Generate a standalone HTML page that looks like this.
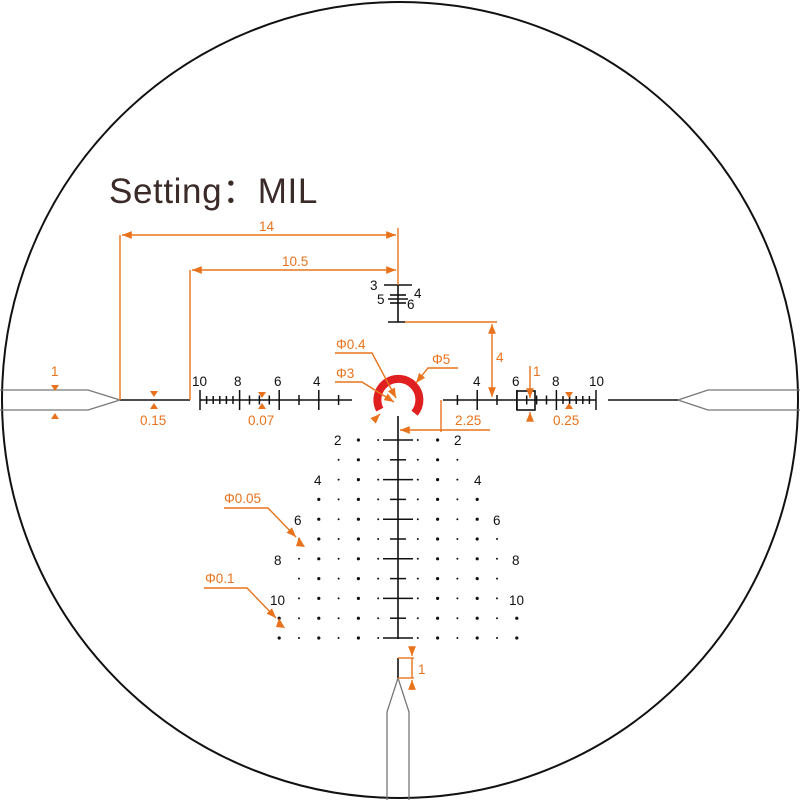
<!DOCTYPE html>
<html><head><meta charset="utf-8"><style>
html,body{margin:0;padding:0;background:#fff;}
svg{display:block;}
text{font-family:"Liberation Sans","DejaVu Sans",sans-serif;}
.o{fill:#E8731C;font-size:13.5px;}
.k{fill:#111;font-size:13.5px;}
</style></head><body>
<svg id="s" width="800" height="800" viewBox="0 0 800 800" xmlns="http://www.w3.org/2000/svg">
<defs>
<marker id="a" viewBox="0 0 10 10" refX="10" refY="5" markerWidth="7" markerHeight="7" orient="auto-start-reverse"><path d="M0,1 L10,5 L0,9 z" fill="#E8731C"/></marker>
</defs>
<circle cx="400" cy="400" r="398" fill="none" stroke="#111" stroke-width="2"/>
<text x="109" y="203" font-size="35" fill="#3a2a28" style="font-family:'Liberation Sans','Noto Sans CJK SC',sans-serif;letter-spacing:0.6px">Setting：MIL</text>

<!-- posts -->
<g fill="none" stroke="#777" stroke-width="1.3">
<path d="M0,390 H88 L120,400 L88,410 H0"/>
<path d="M800,390 H708 L678,400 L708,410 H800"/>
<path d="M387,800 V712 L398,678 L409,712 V800"/>
</g>
<g stroke="#111" stroke-width="1.6" fill="none">
<line x1="120" y1="400" x2="190" y2="400"/>
<line x1="200" y1="400" x2="352" y2="400"/>
<line x1="443" y1="400" x2="596" y2="400"/>
<line x1="608" y1="400" x2="678" y2="400"/>
<line x1="398" y1="658" x2="398" y2="678"/>
<line x1="398" y1="416" x2="398" y2="639"/>
<line x1="398" y1="285" x2="398" y2="322"/>
<line x1="384" y1="285" x2="412" y2="285"/>
<line x1="390" y1="295" x2="406" y2="295"/>
<line x1="388" y1="299" x2="408" y2="299"/>
<line x1="390" y1="303" x2="406" y2="303"/>
<line x1="388" y1="322" x2="405" y2="322"/>
<rect x="517" y="391" width="18" height="19"/>
</g>
<g id="ticks" stroke="#111" stroke-width="1.5"></g>
<g id="dots" fill="#111"></g>

<!-- ring -->
<path d="M379.8,409.6 A21,21 0 1 1 414.6,413.2" fill="none" stroke="#E02020" stroke-width="8"/>

<!-- labels black -->
<g class="k">
<text x="192" y="386">10</text><text x="234" y="386">8</text><text x="274" y="386">6</text><text x="313" y="386">4</text>
<text x="473" y="386">4</text><text x="512" y="386">6</text><text x="552" y="386">8</text><text x="589" y="386">10</text>
<text x="370" y="290">3</text><text x="414" y="298">4</text><text x="377" y="304">5</text><text x="407" y="309">6</text>
<text x="334" y="445">2</text><text x="454" y="445">2</text>
<text x="314" y="485">4</text><text x="474" y="485">4</text>
<text x="294" y="525">6</text><text x="493" y="525">6</text>
<text x="274" y="565">8</text><text x="512" y="565">8</text>
<text x="270" y="605">10</text><text x="509" y="605">10</text>
</g>

<!-- orange annotations -->
<g stroke="#E8731C" stroke-width="1.4" fill="none">
<line x1="120" y1="235" x2="120" y2="400"/>
<line x1="122" y1="235" x2="396" y2="235" marker-start="url(#a)" marker-end="url(#a)"/>
<line x1="190" y1="270" x2="190" y2="400"/>
<line x1="192" y1="270" x2="396" y2="270" marker-start="url(#a)" marker-end="url(#a)"/>
<line x1="398" y1="228" x2="398" y2="285"/>
<line x1="405" y1="322" x2="497" y2="322"/>
<line x1="492" y1="324" x2="492" y2="397" marker-start="url(#a)" marker-end="url(#a)"/>
<line x1="441" y1="400" x2="441" y2="432"/>
<line x1="490" y1="430" x2="400" y2="430" marker-end="url(#a)"/>
<line x1="530" y1="366" x2="530" y2="398" marker-end="url(#a)"/>
<line x1="530" y1="419" x2="530" y2="412" marker-end="url(#a)"/>
<path d="M335,353 H372 L396,398" marker-end="url(#a)"/>
<path d="M335,382 H362 L394,402" marker-end="url(#a)"/>
<path d="M458,368 H428 L416,383" marker-end="url(#a)"/>
<line x1="374" y1="420" x2="380" y2="414" marker-end="url(#a)"/>
<path d="M224,508 H268 L296,537" marker-end="url(#a)"/>
<path d="M204,588 H247 L276,618" marker-end="url(#a)"/>
<line x1="398" y1="658" x2="414" y2="658"/><line x1="398" y1="678" x2="414" y2="678"/>
<line x1="412" y1="648" x2="412" y2="656" marker-end="url(#a)"/>
<line x1="412" y1="690" x2="412" y2="680" marker-end="url(#a)"/>
<line x1="412" y1="658" x2="412" y2="678"/>
</g>
<g fill="#E8731C">
<path d="M51,385 h8 l-4,6 z"/><path d="M51,419 h8 l-4,-6 z"/>
<path d="M150,391 h8 l-4,6 z"/><path d="M150,409 h8 l-4,-6 z"/>
<path d="M258,392 h8 l-4,6 z"/><path d="M258,409 h8 l-4,-6 z"/>
<path d="M565,392 h8 l-4,6 z"/><path d="M565,409 h8 l-4,-6 z"/>
<path d="M299,537 l6,10 l-9,-1 z"/><path d="M279,618 l6,10 l-9,-1 z"/>
</g>
<g class="o">
<text x="259" y="231">14</text><text x="282" y="266">10.5</text>
<text x="51" y="376">1</text><text x="140" y="425">0.15</text><text x="248" y="425">0.07</text>
<text x="553" y="425">0.25</text><text x="533" y="376">1</text>
<text x="496" y="362">4</text><text x="455" y="425">2.25</text>
<text x="336" y="349">Φ0.4</text><text x="336" y="378">Φ3</text><text x="432" y="364">Φ5</text>
<text x="224" y="503">Φ0.05</text><text x="205" y="583">Φ0.1</text>
<text x="418" y="674">1</text>
</g>
</svg>
<script>
var NS="http://www.w3.org/2000/svg",u=19.8,cx=398;
function el(p,t,a){var e=document.createElementNS(NS,t);for(var k in a)e.setAttribute(k,a[k]);document.getElementById(p).appendChild(e);}
function tick(x,h){el("ticks","line",{x1:x,y1:400-h,x2:x,y2:400+h});}
[1,-1].forEach(function(s){
 for(var m=2;m<=10;m+=2)tick(cx-s*m*u,m>=4?10:0);
 tick(cx-s*3*u,5);tick(cx-s*5*u,5);
 for(var i=1;i<4;i++)tick(cx-s*(6+i*0.5)*u,4.5);
 for(var i=1;i<6;i++)tick(cx-s*(8+i/3)*u,4);
});
for(var r=0;r<11;r++){var y=440+r*19.8;var L=(r%2==0)?15:8;el("ticks","line",{x1:cx-L,y1:y,x2:cx+L,y2:y});}
var ext=[2,3,3,4,4,5,5,5,5,6,6];
var skip={0:3,2:4,4:5,6:6,8:6};
for(var r=0;r<11;r++){var y=440+r*19.8;
 for(var c=1;c<=ext[r];c++){ if(skip[r]===c)continue;
  var big=c%2==0;
  [1,-1].forEach(function(s){el("dots","circle",{cx:cx+s*c*u,cy:y,r:big?1.6:1});});
 }
}
</script>
</body></html>
